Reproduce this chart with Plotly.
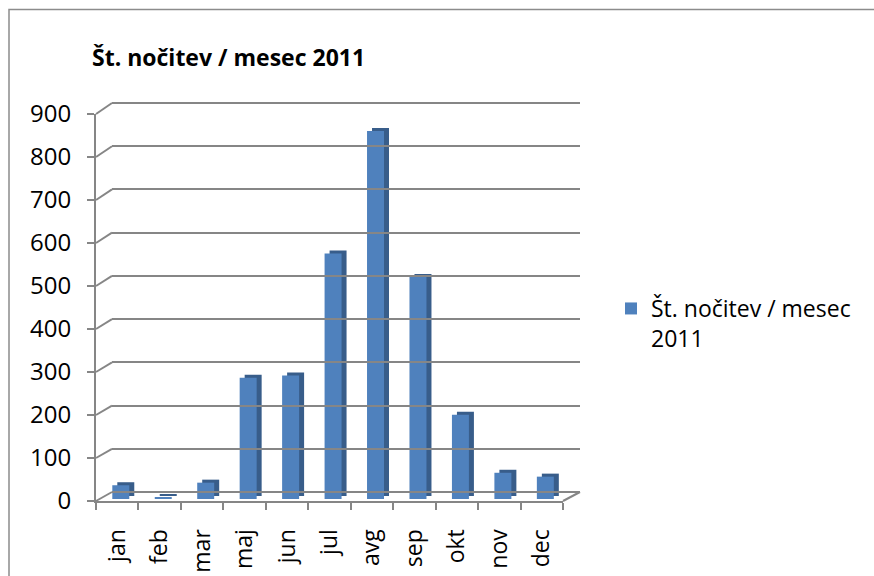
import plotly.graph_objects as go

months = ["jan", "feb", "mar", "maj", "jun", "jul", "avg", "sep", "okt", "nov", "dec"]
values = [32, 4, 38, 282, 287, 571, 856, 516, 196, 61, 52]
series_name = "Št. nočitev / mesec 2011"
yticks = [0, 100, 200, 300, 400, 500, 600, 700, 800, 900]

W, H = 874, 576
FONT = "Open Sans"
GRID = "#868686"
FRONT = "#4F81BD"
SIDE = "#385D8A"

# pixel geometry of the pseudo-3D box
fx0, fx1 = 96, 563        # front axis
bx0, bx1 = 112, 580       # back wall
fy0, fy1 = 501, 114       # front: value 0 / 900
by0, by1 = 492, 103       # back: value 0 / 900

def px(x):
    return x / W

def py(y):
    return 1 - y / H

depth = 2 / ((fy0 - fy1) / 900.0)   # bars stand ~2px behind the front edge

fig = go.Figure()

# dark "side/top" face drawn behind the front face
fig.add_trace(go.Bar(
    x=months, y=values, base=depth + 7, offset=-0.116 + 5 / 42.45, width=0.40,
    marker=dict(color=SIDE, line=dict(width=0)), showlegend=False, hoverinfo="skip",
))
fig.add_trace(go.Bar(
    x=months, y=values, base=depth, offset=-0.116, width=0.40,
    marker=dict(color=FRONT, line=dict(width=0)), name=series_name.replace(" 2011", "<br>2011"),
))
# back wall axes (gridlines only)
fig.add_trace(go.Scatter(x=[], y=[], xaxis="x2", yaxis="y2", showlegend=False))

shapes = []
# connectors from front ticks to back gridlines
for v in yticks:
    yf = fy0 + (fy1 - fy0) * v / 900
    yb = by0 + (by1 - by0) * v / 900
    shapes.append(dict(type="line", xref="paper", yref="paper",
                       x0=px(fx0), y0=py(yf), x1=px(bx0), y1=py(yb),
                       line=dict(color=GRID, width=2)))
# floor right edge
shapes.append(dict(type="line", xref="paper", yref="paper",
                   x0=px(fx1), y0=py(fy0), x1=px(bx1), y1=py(by0),
                   line=dict(color=GRID, width=2)))
# outer chart border (left and top)
shapes.append(dict(type="path", xref="paper", yref="paper",
                   path=f"M {px(9)} {py(576)} L {px(9)} {py(9.5)} L {px(874)} {py(9.5)}",
                   line=dict(color="#8c8c8c", width=1.5)))

# back wall y2 slightly padded so the 0 and 900 gridlines are drawn
pad = 4
k = (by0 - by1) / 900.0
fig.update_layout(
    width=W, height=H,
    margin=dict(l=0, r=0, t=0, b=0),
    template="none",
    paper_bgcolor="white", plot_bgcolor="rgba(0,0,0,0)",
    barmode="overlay",
    font=dict(family=FONT, size=23, color="black"),
    title=dict(text="<b>" + series_name + "</b>", x=px(92), xanchor="left",
               xref="paper", y=py(58), yanchor="middle", yref="paper",
               font=dict(family=FONT, size=23, color="black")),
    xaxis=dict(domain=[px(fx0), px(fx1)], range=[-0.5, 10.5], anchor="y",
               showline=True, linecolor=GRID, linewidth=2,
               ticks="outside", tickson="boundaries", ticklen=7, tickcolor=GRID, tickwidth=2,
               tickangle=-90, tickfont=dict(size=23), showgrid=False, zeroline=False,
               ticklabelstandoff=17),
    yaxis=dict(domain=[py(fy0), py(fy1)], range=[0, 900], anchor="x",
               tickvals=yticks, showline=True, linecolor=GRID, linewidth=2,
               ticks="outside", ticklen=7, tickcolor=GRID, tickwidth=2,
               showgrid=False, zeroline=False, tickfont=dict(size=24),
               ticklabelstandoff=11),
    xaxis2=dict(domain=[px(bx0), px(bx1)], range=[0, 1], anchor="y2",
                visible=False, showgrid=False),
    yaxis2=dict(domain=[py(by0 + pad), py(by1 - pad)], range=[-pad / k, 900 + pad / k],
                anchor="x2",
                tickvals=yticks, showgrid=True, gridcolor=GRID, gridwidth=2,
                showticklabels=False, showline=False, zeroline=False, ticks=""),
    legend=dict(x=px(611), xanchor="left", y=py(287), yanchor="top",
                font=dict(size=23), bgcolor="rgba(0,0,0,0)", valign="top",
                tracegroupgap=0),
    shapes=shapes,
    showlegend=True,
)

fig.write_html("out.html")
